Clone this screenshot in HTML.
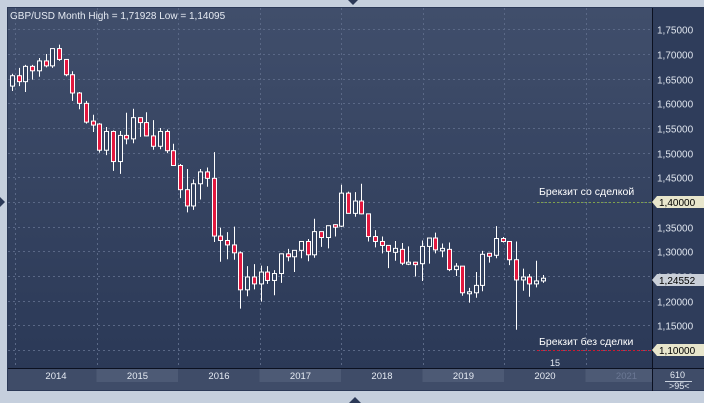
<!DOCTYPE html>
<html><head><meta charset="utf-8"><style>
body{margin:0;width:704px;height:403px;overflow:hidden;background:#c5cfdd;font-family:"Liberation Sans","DejaVu Sans",sans-serif;}
svg{position:absolute;left:0;top:0}
</style></head><body>
<svg id="s" width="704" height="403" xmlns="http://www.w3.org/2000/svg">
<defs>
<linearGradient id="g" x1="0" y1="0" x2="0" y2="1"><stop offset="0" stop-color="#404e6b"/><stop offset="1" stop-color="#2b3957"/></linearGradient>
</defs>
<rect x="7" y="7" width="697" height="384" fill="#2b3957"/>
<rect x="8" y="8" width="644" height="360" fill="url(#g)"/>
<rect x="653" y="8" width="51" height="360" fill="#2f3d5b"/>
<line x1="652.5" y1="8" x2="652.5" y2="391" stroke="#0b1020"/>
<rect x="8" y="369" width="644" height="21" fill="#3f4c68"/>
<rect x="653" y="369" width="51" height="21" fill="#3f4c68"/>
<line x1="8" y1="368.5" x2="704" y2="368.5" stroke="#0b1020"/>
<g id="grid"></g>
<g id="c"></g>
<text x="10" y="19" fill="#e6ebf3" font-size="10">GBP/USD Month High = 1,71928 Low = 1,14095</text>
<line x1="537" y1="202.5" x2="652" y2="202.5" stroke="#7fa24a" stroke-dasharray="2,2"/>
<line x1="537" y1="350.5" x2="652" y2="350.5" stroke="#d01830" stroke-dasharray="2,2"/>
<text x="539" y="195" fill="#ffffff" font-size="10.5">Брекзит со сделкой</text>
<text x="539" y="345" fill="#ffffff" font-size="10.5">Брекзит без сделки</text>
<polygon points="652,202 657,196 704,196 704,208 657,208" fill="#e8e6cc"/>
<text x="659" y="206" fill="#000" font-size="10">1,40000</text>
<polygon points="652,280 657,274 704,274 704,286 657,286" fill="#c9cfd8"/>
<text x="659" y="284" fill="#000" font-size="10">1,24552</text>
<polygon points="652,350 657,344 704,344 704,356 657,356" fill="#e8e6cc"/>
<text x="659" y="354" fill="#000" font-size="10">1,10000</text>
<text x="550" y="366" fill="#e6ebf3" font-size="9">15</text>
<text x="670" y="378" fill="#e6ebf3" font-size="9">610</text>
<line x1="665" y1="381.5" x2="692" y2="381.5" stroke="#c8d0dc"/>
<text x="669" y="389" fill="#e6ebf3" font-size="9">&gt;95&lt;</text>
<polygon points="348,0 358,0 353,5" fill="#2b3957"/>
<polygon points="349,403 361,403 355,397" fill="#2b3957"/>
<polygon points="0,197 0,207 5,202" fill="#2b3957"/>
</svg>
<script>
var NS="http://www.w3.org/2000/svg";
function el(p,t,a){var e=document.createElementNS(NS,t);for(var k in a)e.setAttribute(k,a[k]);p.appendChild(e);return e;}
var Y=function(p){return 350-(p-1.10)*493.3;};
var gr=document.getElementById('grid');
for(var p=1.10;p<1.76;p+=0.05){var y=Math.round(Y(p))+0.5;
 el(gr,'line',{x1:8,x2:652,y1:y,y2:y,stroke:'#5a6886','stroke-dasharray':'2,3','stroke-width':1});
 var t=el(gr,'text',{x:657,y:y+4,fill:'#dfe5ee','font-size':10});t.textContent=p.toFixed(5).replace('.',',');}
var yrs=['2014','2015','2016','2017','2018','2019','2020','2021'];
for(var i=0;i<8;i++){var x0=15+81.5*i;
 el(gr,'line',{x1:Math.round(x0)+0.5,x2:Math.round(x0)+0.5,y1:8,y2:368,stroke:'#5a6886','stroke-dasharray':'2,3'});
 if(i%2==1&&x0<640)el(gr,'rect',{x:x0,y:369,width:Math.min(81.5,652-x0),height:13,fill:'#4d5a75'});
 var t=el(gr,'text',{x:x0+41,y:379,fill:i==7?'#6b7894':'#e6ebf3','font-size':9.5,'text-anchor':'middle'});t.textContent=yrs[i];}
var d=[[1.635,1.660,1.625,1.656],[1.656,1.672,1.635,1.644],[1.644,1.678,1.623,1.675],[1.675,1.678,1.648,1.666],[1.666,1.692,1.654,1.686],[1.686,1.700,1.673,1.676],[1.676,1.711,1.672,1.711],[1.711,1.719,1.686,1.689],[1.689,1.690,1.655,1.658],[1.658,1.665,1.605,1.621],[1.621,1.623,1.588,1.600],[1.600,1.605,1.559,1.562],[1.562,1.577,1.542,1.558],
[1.558,1.560,1.500,1.505],[1.505,1.552,1.495,1.543],[1.543,1.545,1.463,1.482],[1.482,1.544,1.457,1.535],[1.535,1.581,1.517,1.528],[1.528,1.589,1.519,1.571],[1.571,1.569,1.532,1.561],[1.561,1.582,1.533,1.534],[1.534,1.566,1.506,1.513],[1.513,1.550,1.507,1.543],[1.543,1.547,1.499,1.504],[1.504,1.518,1.473,1.474],
[1.474,1.477,1.408,1.425],[1.425,1.467,1.379,1.392],[1.392,1.446,1.384,1.437],[1.437,1.467,1.405,1.461],[1.461,1.470,1.431,1.448],[1.448,1.501,1.319,1.331],[1.331,1.348,1.279,1.322],[1.322,1.339,1.284,1.313],[1.313,1.350,1.283,1.297],[1.297,1.300,1.184,1.222],[1.222,1.270,1.209,1.248],[1.248,1.274,1.223,1.234],
[1.234,1.271,1.198,1.258],[1.258,1.270,1.234,1.241],[1.241,1.262,1.211,1.255],[1.255,1.296,1.236,1.295],[1.295,1.305,1.280,1.289],[1.289,1.301,1.258,1.302],[1.302,1.321,1.286,1.320],[1.320,1.325,1.280,1.293],[1.293,1.366,1.287,1.340],[1.340,1.339,1.309,1.328],[1.328,1.351,1.306,1.352],[1.352,1.355,1.330,1.351],
[1.351,1.435,1.349,1.418],[1.418,1.421,1.377,1.377],[1.377,1.420,1.370,1.402],[1.402,1.437,1.375,1.376],[1.376,1.376,1.320,1.330],[1.330,1.343,1.308,1.320],[1.320,1.330,1.296,1.312],[1.312,1.312,1.266,1.300],[1.300,1.321,1.281,1.304],[1.304,1.317,1.272,1.276],[1.276,1.310,1.272,1.276],[1.276,1.279,1.249,1.275],
[1.275,1.322,1.240,1.310],[1.310,1.327,1.275,1.327],[1.327,1.338,1.296,1.303],[1.303,1.316,1.288,1.304],[1.304,1.318,1.260,1.263],[1.263,1.276,1.250,1.270],[1.270,1.270,1.210,1.216],[1.216,1.226,1.196,1.216],[1.216,1.258,1.206,1.231],[1.231,1.301,1.219,1.294],[1.294,1.297,1.277,1.292],[1.292,1.351,1.286,1.326],
[1.326,1.329,1.318,1.320],[1.320,1.320,1.272,1.283],[1.283,1.320,1.141,1.242],[1.242,1.265,1.220,1.248],[1.248,1.254,1.208,1.234],[1.234,1.281,1.227,1.240],[1.240,1.252,1.236,1.2455]];
var c=document.getElementById('c');
for(var i=0;i<d.length;i++){var x=Math.round(12+6.72*i),o=d[i][0],h=d[i][1],l=d[i][2],cl=d[i][3];
 el(c,'line',{x1:x+0.5,x2:x+0.5,y1:Y(h),y2:Y(l),stroke:'#ffffff'});
 var t=Math.min(Y(o),Y(cl)),b=Math.max(Y(o),Y(cl));if(b-t<2){t-=1;b+=1;}
 el(c,'rect',{x:x-1.5,y:t,width:4,height:b-t,fill:cl>=o?'#34425f':'#e3173e',stroke:'#ffffff','stroke-width':1});}
</script>
</body></html>
